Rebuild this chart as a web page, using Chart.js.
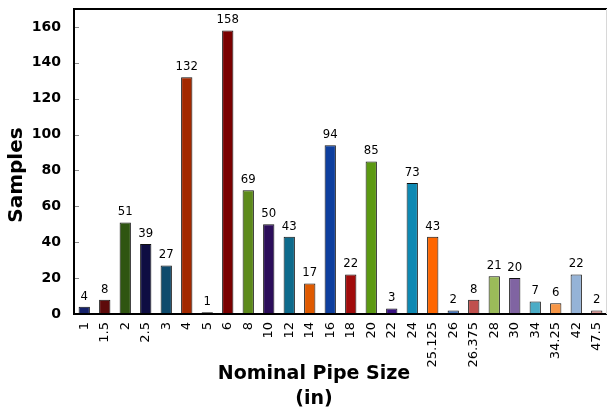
<!DOCTYPE html>
<html>
<head>
<meta charset="utf-8">
<script src="https://cdn.jsdelivr.net/npm/chart.js@4/dist/chart.umd.min.js"></script>
<style>
  html, body { margin: 0; padding: 0; background: #ffffff; }
  #wrap { width: 607px; height: 415px; position: relative; }
</style>
</head>
<body>
<div id="wrap"><canvas id="c" width="607" height="415"></canvas></div>
<script>
// Nominal pipe sizes (inches) and number of samples for each
const sizes = ['1', '1.5', '2', '2.5', '3', '4', '5', '6', '8', '10', '12', '14', '16', '18',
  '20', '22', '24', '25.125', '26', '26.375', '28', '30', '34', '34.25', '42', '47.5'];
const samples = [4, 8, 51, 39, 27, 132, 1, 158, 69, 50, 43, 17, 94, 22,
  85, 3, 73, 43, 2, 8, 21, 20, 7, 6, 22, 2];
const barColors = ['#15216b', '#5e0b0b', '#2f5511', '#0e0d42', '#0e4a6c', '#a32900', '#13234a', '#7a0000',
  '#5d8a1c', '#2c0e5a', '#0e6b8c', '#df5a00', '#0e3f9e', '#a10b0b', '#5c9912', '#3a1282',
  '#0e89b3', '#ff6600', '#4a7bc0', '#c0504d', '#9bbb59', '#8064a2', '#4bacc6', '#f79646',
  '#95b3d7', '#d99694'];
const yTicks = [0, 20, 40, 60, 80, 100, 120, 140, 160];
const yMax = 170;

const frameAndLabels = {
  id: 'frameAndLabels',
  afterDatasetsDraw(chart) {
    const ctx = chart.ctx;
    const meta = chart.getDatasetMeta(0);
    ctx.save();
    ctx.fillStyle = '#000000';
    ctx.font = '13px "DejaVu Sans Condensed", "DejaVu Sans", sans-serif';
    ctx.textAlign = 'center';
    ctx.textBaseline = 'bottom';
    meta.data.forEach((bar, i) => {
      ctx.fillText(String(samples[i]), bar.x, bar.y - 4);
    });
    ctx.restore();
  },
  afterDraw(chart) {
    const ctx = chart.ctx;
    const a = chart.chartArea;
    const ys = chart.scales.y;
    ctx.save();
    // inner tick marks on the value axis
    ctx.strokeStyle = '#8a8a8a';
    ctx.lineWidth = 1;
    yTicks.forEach(v => {
      const py = Math.round(ys.getPixelForValue(v)) + 0.5;
      ctx.beginPath();
      ctx.moveTo(a.left, py);
      ctx.lineTo(a.left + 5, py);
      ctx.stroke();
    });
    // frame: top, left, bottom
    ctx.strokeStyle = '#000000';
    ctx.lineWidth = 2;
    ctx.beginPath();
    ctx.moveTo(a.right, a.top);
    ctx.lineTo(a.left, a.top);
    ctx.lineTo(a.left, a.bottom);
    ctx.lineTo(a.right, a.bottom);
    ctx.stroke();
    ctx.strokeStyle = '#d8d8d8';
    ctx.lineWidth = 1;
    ctx.beginPath();
    ctx.moveTo(a.right - 0.5, a.top);
    ctx.lineTo(a.right - 0.5, a.bottom);
    ctx.stroke();

    // axis titles
    ctx.fillStyle = '#000000';
    ctx.textAlign = 'center';
    ctx.textBaseline = 'middle';
    ctx.font = 'bold 19px "DejaVu Sans", sans-serif';
    ctx.fillText('Nominal Pipe Size', 314, 374);
    ctx.fillText('(in)', 314, 399);
    ctx.translate(17, 175);
    ctx.rotate(-Math.PI / 2);
    ctx.font = 'bold 20px "DejaVu Sans", sans-serif';
    ctx.fillText('Samples', 0, 0);
    ctx.restore();
  }
};

new Chart(document.getElementById('c'), {
  type: 'bar',
  data: {
    labels: sizes,
    datasets: [{
      data: samples,
      backgroundColor: barColors,
      borderColor: '#111111',
      borderWidth: 1,
      borderSkipped: false,
      categoryPercentage: 1.0,
      barPercentage: 0.55
    }]
  },
  options: {
    responsive: false,
    animation: false,
    layout: { padding: { top: 9, right: 0, left: 0, bottom: 0 } },
    plugins: { legend: { display: false }, tooltip: { enabled: false } },
    scales: {
      x: {
        grid: { display: false, drawTicks: false },
        border: { display: false },
        ticks: {
          autoSkip: false,
          maxRotation: 90,
          minRotation: 90,
          padding: 8,
          color: '#000000',
          font: { family: '"DejaVu Sans", sans-serif', size: 13 }
        },
        afterFit(scale) {
          scale.height = 101;
          scale.paddingLeft = 0;
          scale.paddingRight = 0;
        }
      },
      y: {
        min: 0,
        max: yMax,
        grid: { display: false, drawTicks: false },
        border: { display: false },
        afterBuildTicks(scale) { scale.ticks = yTicks.map(v => ({ value: v })); },
        ticks: {
          padding: 13,
          color: '#000000',
          font: { family: '"DejaVu Sans", sans-serif', size: 14, weight: 'bold' }
        },
        afterFit(scale) {
          scale.width = 74;
          scale.paddingTop = 0;
          scale.paddingBottom = 0;
        }
      }
    }
  },
  plugins: [frameAndLabels]
});
</script>
</body>
</html>
